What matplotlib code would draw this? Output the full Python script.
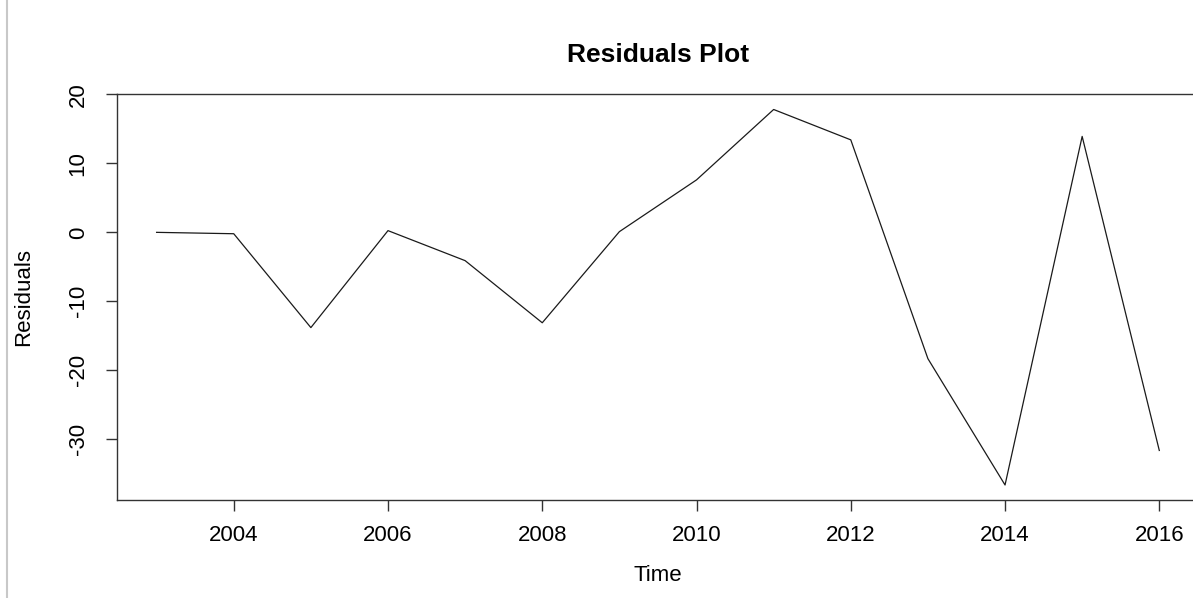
import matplotlib
matplotlib.use("Agg")
import matplotlib.pyplot as plt
from matplotlib.lines import Line2D

years = [2003, 2004, 2005, 2006, 2007, 2008, 2009, 2010, 2011, 2012, 2013, 2014, 2015, 2016]
residuals = [0.0, -0.2, -13.8, 0.25, -4.1, -13.1, 0.1, 7.6, 17.8, 13.4, -18.3, -36.6, 13.9, -31.6]
xticks = [2004, 2006, 2008, 2010, 2012, 2014, 2016]
yticks = [-30, -20, -10, 0, 10, 20]

plt.rcParams['font.family'] = ['Liberation Sans', 'DejaVu Sans']

W, H = 1193, 598
fig = plt.figure(figsize=(W / 100, H / 100), dpi=100)
left_px, right_px, top_px, bottom_px = 116.5, 1199.4, 94.3, 500.0
ax = fig.add_axes([left_px / W, (H - bottom_px) / H,
                   (right_px - left_px) / W, (bottom_px - top_px) / H])

ax.plot(years, residuals, color='#1a1a1a', lw=0.9)
ax.margins(x=0.04, y=0.04)

for s in ax.spines.values():
    s.set_linewidth(1.0)
    s.set_color('#333333')
ax.spines['right'].set_visible(False)

ax.set_xticks(xticks)
ax.set_xticklabels([str(t) for t in xticks])
ax.set_yticks(yticks)
ax.set_yticklabels([str(t) for t in yticks], rotation=90, va='center')
ax.tick_params(axis='both', length=8, width=1.0, color='#333333', labelsize=16)
ax.tick_params(axis='x', pad=10)
ax.tick_params(axis='y', pad=12)

ax.set_xlabel('Time', fontsize=16, labelpad=14)
ax.set_ylabel('Residuals', fontsize=16, labelpad=24)
ax.set_title('Residuals Plot', fontsize=19, fontweight='bold', pad=23)

fig.add_artist(Line2D([7.5 / W, 7.5 / W], [0, 1], transform=fig.transFigure,
                      color='#c8c8c8', lw=1.5))

fig.savefig('out.png', dpi=100)
